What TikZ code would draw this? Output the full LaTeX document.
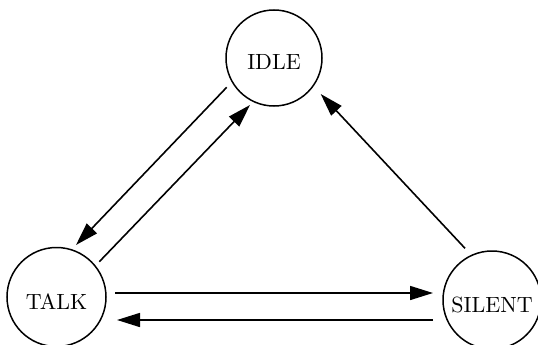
\documentclass[tikz,border=0pt]{standalone}
\usetikzlibrary{arrows.meta,calc}
\newcommand{\bigtxt}[1]{\scalebox{2.2}{#1}}
\begin{document}
\begin{tikzpicture}[x=1pt,y=-1pt,
  state/.style={circle,draw,line width=1.5pt,inner sep=0pt,
    text height=24pt,text depth=0pt},
  arr/.style={line width=1.6pt,-{Triangle[length=23pt,width=14pt]}}]
\useasboundingbox (0,0) rectangle (538,345);
\clip (0,0) rectangle (538,345);
\node[state,minimum size=96pt] (idle) at (274,58) {\bigtxt{IDLE}};
\node[state,minimum size=99pt] (talk) at (56.5,297) {\bigtxt{TALK}};
\node[state,minimum size=98pt] (silent) at (492,300) {\bigtxt{SILENT}};
\draw[arr] ($(idle.center)+(-47.3,29.3)$) -- ($(talk.center)+(19.5,-52)$);
\draw[arr] ($(talk.center)+(42.8,-35.3)$) -- ($(idle.center)+(-24,47)$);
\draw[arr] ($(silent.center)+(-27,-51.7)$) -- ($(idle.center)+(46.7,36)$);
\draw[arr] ($(talk.center)+(58.5,-4)$) -- ($(silent.center)+(-59,-7)$);
\draw[arr] ($(silent.center)+(-59,20)$) -- ($(talk.center)+(60.5,23)$);
\end{tikzpicture}
\end{document}
